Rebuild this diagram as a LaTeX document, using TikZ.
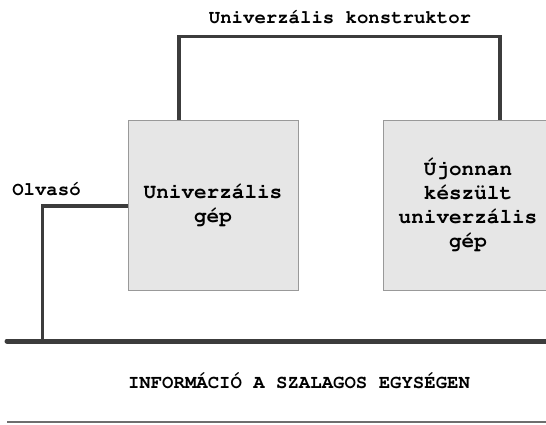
\documentclass[tikz,border=0pt]{standalone}
\usepackage[T1]{fontenc}
\usepackage{courier}
\usepackage{tikz}
\usetikzlibrary{positioning}
\definecolor{wirecol}{HTML}{3C3C3C}
\definecolor{boxfill}{HTML}{E6E6E6}
\definecolor{boxedge}{HTML}{999999}
\definecolor{tapeedge}{HTML}{6E6E6E}

\begin{document}
\begin{tikzpicture}[x=1pt,y=-1pt,node distance=255pt,on grid]
				\useasboundingbox (0,0) rectangle (546,424);
				\tikzset{gepbox/.style={draw=boxedge,fill=boxfill,line width=1pt,minimum width=170pt,minimum height=170pt,align=center,inner sep=0pt,font=\ttfamily\bfseries\fontsize{21}{24}\selectfont}}
				\tikzset{lbl/.style={inner sep=0pt,font=\ttfamily\bfseries\fontsize{19}{22}\selectfont}}
				\tikzset{wire/.style={draw=wirecol,line width=3.2pt}}

				\node[gepbox] (ugep) at (213,205) {Univerzális\\gép};
				\node[gepbox] (ujgep) [right =of ugep] {Újonnan\\készült\\univerzális\\gép};

				\node[lbl] (konstr) at (340,17) {Univerzális konstruktor};
				\node[lbl] (olvaso) at (46.5,189) {Olvasó};
				\node[lbl] (info) at (299,381) {INFORMÁCIÓ A SZALAGOS EGYSÉGEN};

				\coordinate (kL) at (179,36.5);
				\coordinate (kR) at (500,36.5);
				\coordinate (rd) at (42.5,206);
				\coordinate (tapeL) at (7,341);
				\coordinate (tapeR) at (552,341);
				\coordinate (alsoL) at (7,422);
				\coordinate (alsoR) at (552,422);

				\draw[wire] (ugep.north -| kL) -- (kL) -- (kR) -- (ujgep.north -| kR);
				\draw[wire] (ugep.west |- rd) -- (rd) -- (rd |- tapeL);
				\draw[wire,line width=5pt,line cap=round] (tapeL) -- (tapeR);
				\draw[draw=tapeedge,line width=1.6pt] (alsoL) -- (alsoR);
			\end{tikzpicture}
\end{document}
